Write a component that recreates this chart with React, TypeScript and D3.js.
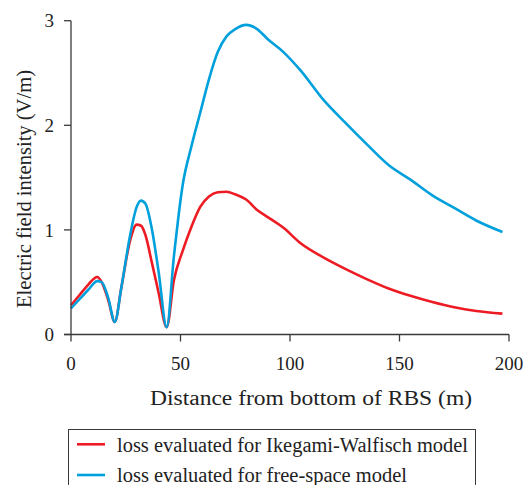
import React from "react";
import * as d3 from "d3";

// distance from bottom of RBS (m)
const distance = [
  0, 4, 8, 12, 14, 17, 20, 23, 27, 30, 32, 34, 37, 40, 43.7, 47, 51, 55, 59, 63,
  67, 71, 75, 80, 85, 90, 97, 105, 115, 125, 135, 145, 155, 165, 175, 185, 197,
];

// Ikegami-Walfisch model
const ikegami = [
  0.28, 0.38, 0.48, 0.55, 0.5, 0.33, 0.12, 0.45, 0.9, 1.05, 1.04, 0.95, 0.68,
  0.4, 0.07, 0.52, 0.8, 1.03, 1.22, 1.32, 1.36, 1.365, 1.34, 1.29, 1.19, 1.12,
  1.02, 0.87, 0.74, 0.63, 0.53, 0.44, 0.37, 0.31, 0.26, 0.225, 0.2,
];

// free-space model
const freeSpace = [
  0.25, 0.34, 0.43, 0.51, 0.5, 0.35, 0.12, 0.45, 0.95, 1.22, 1.28, 1.25, 1.0,
  0.6, 0.07, 0.75, 1.43, 1.8, 2.12, 2.44, 2.7, 2.85, 2.92, 2.96, 2.92, 2.82,
  2.7, 2.52, 2.25, 2.03, 1.82, 1.62, 1.48, 1.33, 1.21, 1.09, 0.98,
];

const xTicks = [0, 50, 100, 150, 200];
const yTicks = [0, 1, 2, 3];

const seriesNames = [
  "loss evaluated for Ikegami-Walfisch model",
  "loss evaluated for free-space model",
];
const legendWidths = [351, 290];
const colors = ["#ed1c24", "#00a0dc"];

const FONT = "'Liberation Serif', 'Times New Roman', serif";
const AXIS = "#3a3a3a";
const TEXT = "#222";

export default function App() {
  const width = 525;
  const height = 485;

  const x = d3.scaleLinear().domain([0, 200]).range([71, 509]);
  const y = d3.scaleLinear().domain([0, 3]).range([334.5, 20.7]);

  const line = d3
    .line<number>()
    .x((_, i) => x(distance[i]))
    .y((d) => y(d))
    .curve(d3.curveMonotoneX);

  const series = [ikegami, freeSpace];

  return (
    <svg
      width={width}
      height={height}
      style={{ position: "absolute", left: 0, top: 0, background: "#fff" }}
      fontFamily={FONT}
    >
      {/* series */}
      {series.map((s, i) => (
        <path
          key={i}
          d={line(s) || ""}
          fill="none"
          stroke={colors[i]}
          strokeWidth={2.6}
          strokeLinejoin="round"
        />
      ))}

      {/* axes */}
      <line x1={x(0)} x2={x(0)} y1={y(3)} y2={y(0)} stroke={AXIS} strokeWidth={1.3} />
      <line x1={64} x2={x(200)} y1={y(0)} y2={y(0)} stroke={AXIS} strokeWidth={1.3} />
      {yTicks.map((t) => (
        <g key={t}>
          <line x1={64} x2={x(0)} y1={y(t)} y2={y(t)} stroke={AXIS} strokeWidth={1.3} />
          <text x={54} y={y(t)} dy="0.35em" textAnchor="end" fontSize={19} fill={TEXT}>
            {t}
          </text>
        </g>
      ))}
      {xTicks.map((t) => (
        <g key={t}>
          <line x1={x(t)} x2={x(t)} y1={y(0)} y2={y(0) + 7} stroke={AXIS} strokeWidth={1.3} />
          <text x={x(t)} y={369.5} textAnchor="middle" fontSize={19} fill={TEXT}>
            {t}
          </text>
        </g>
      ))}

      {/* axis titles */}
      <text
        x={150}
        y={405}
        fontSize={20}
        fill={TEXT}
        textLength={322}
        lengthAdjust="spacingAndGlyphs"
      >
        Distance from bottom of RBS (m)
      </text>
      <text
        transform="translate(31,308) rotate(-90)"
        fontSize={20}
        fill={TEXT}
        textLength={238}
        lengthAdjust="spacingAndGlyphs"
      >
        Electric field intensity (V/m)
      </text>

      {/* legend */}
      <rect x={68.5} y={429.5} width={407} height={70} fill="none" stroke={AXIS} strokeWidth={1} />
      {seriesNames.map((name, i) => (
        <g key={name} transform={`translate(0, ${444.3 + i * 30.7})`}>
          <line x1={77} x2={105} y1={0} y2={0} stroke={colors[i]} strokeWidth={2.6} />
          <text
            x={117}
            y={7.4}
            fontSize={20}
            fill={TEXT}
            textLength={legendWidths[i]}
            lengthAdjust="spacingAndGlyphs"
          >
            {name}
          </text>
        </g>
      ))}
    </svg>
  );
}
